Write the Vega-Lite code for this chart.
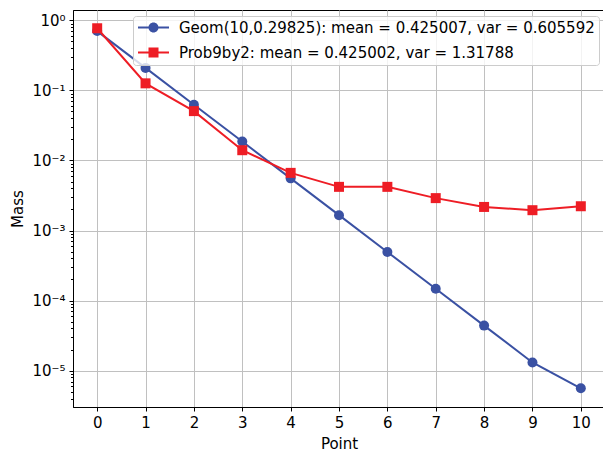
{
  "$schema": "https://vega.github.io/schema/vega-lite/v6.json",
  "autosize": {"type": "none"},
  "width": 532,
  "height": 397,
  "padding": {"left": 73, "top": 10, "right": 0, "bottom": 48},
  "config": {
    "font": "DejaVu Sans",
    "view": {"stroke": "#000000", "strokeWidth": 1},
    "axis": {
      "labelFont": "DejaVu Sans",
      "titleFont": "DejaVu Sans",
      "labelFontSize": 15,
      "titleFontSize": 15,
      "titleFontWeight": "normal",
      "labelColor": "#000000",
      "titleColor": "#000000",
      "domainColor": "#000000",
      "tickColor": "#000000",
      "gridColor": "#c0c0c0",
      "gridWidth": 1,
      "gridOpacity": 1
    },
    "legend": {"labelFont": "DejaVu Sans"}
  },
  "data": {
    "values": [
      {"point": 0, "mass": 0.70175, "series": "Geom(10,0.29825): mean = 0.425007, var = 0.605592"},
      {"point": 1, "mass": 0.20929, "series": "Geom(10,0.29825): mean = 0.425007, var = 0.605592"},
      {"point": 2, "mass": 0.06242, "series": "Geom(10,0.29825): mean = 0.425007, var = 0.605592"},
      {"point": 3, "mass": 0.018617, "series": "Geom(10,0.29825): mean = 0.425007, var = 0.605592"},
      {"point": 4, "mass": 0.005552, "series": "Geom(10,0.29825): mean = 0.425007, var = 0.605592"},
      {"point": 5, "mass": 0.001656, "series": "Geom(10,0.29825): mean = 0.425007, var = 0.605592"},
      {"point": 6, "mass": 0.000494, "series": "Geom(10,0.29825): mean = 0.425007, var = 0.605592"},
      {"point": 7, "mass": 0.0001473, "series": "Geom(10,0.29825): mean = 0.425007, var = 0.605592"},
      {"point": 8, "mass": 0.00004393, "series": "Geom(10,0.29825): mean = 0.425007, var = 0.605592"},
      {"point": 9, "mass": 0.0000131, "series": "Geom(10,0.29825): mean = 0.425007, var = 0.605592"},
      {"point": 10, "mass": 0.0000056, "series": "Geom(10,0.29825): mean = 0.425007, var = 0.605592"},
      {"point": 0, "mass": 0.77, "series": "Prob9by2: mean = 0.425002, var = 1.31788"},
      {"point": 1, "mass": 0.126, "series": "Prob9by2: mean = 0.425002, var = 1.31788"},
      {"point": 2, "mass": 0.0506, "series": "Prob9by2: mean = 0.425002, var = 1.31788"},
      {"point": 3, "mass": 0.0140, "series": "Prob9by2: mean = 0.425002, var = 1.31788"},
      {"point": 4, "mass": 0.00665, "series": "Prob9by2: mean = 0.425002, var = 1.31788"},
      {"point": 5, "mass": 0.0042, "series": "Prob9by2: mean = 0.425002, var = 1.31788"},
      {"point": 6, "mass": 0.0042, "series": "Prob9by2: mean = 0.425002, var = 1.31788"},
      {"point": 7, "mass": 0.0029, "series": "Prob9by2: mean = 0.425002, var = 1.31788"},
      {"point": 8, "mass": 0.00217, "series": "Prob9by2: mean = 0.425002, var = 1.31788"},
      {"point": 9, "mass": 0.00195, "series": "Prob9by2: mean = 0.425002, var = 1.31788"},
      {"point": 10, "mass": 0.00222, "series": "Prob9by2: mean = 0.425002, var = 1.31788"}
    ]
  },
  "encoding": {
    "x": {
      "field": "point", "type": "quantitative",
      "scale": {"domain": [-0.5, 10.5], "nice": false, "zero": false},
      "axis": {"title": "Point", "values": [0,1,2,3,4,5,6,7,8,9,10], "format": "d", "tickSize": 4, "labelPadding": 4, "titlePadding": 6, "grid": true}
    },
    "y": {
      "field": "mass", "type": "quantitative",
      "scale": {"type": "log", "domain": [0.00000303, 1.403], "nice": false},
      "axis": {
        "title": "Mass",
        "orient": "left",
        "values": [1, 0.1, 0.01, 0.001, 0.0001, 0.00001, 0.000004,0.000005,0.000006,0.000007,0.000008,0.000009,0.00002,0.00003,0.00004,0.00005,0.00006,0.00007,0.00008,0.00009,0.0002,0.0003,0.0004,0.0005,0.0006,0.0007,0.0008,0.0009,0.002,0.003,0.004,0.005,0.006,0.007,0.008,0.009,0.02,0.03,0.04,0.05,0.06,0.07,0.08,0.09,0.2,0.3,0.4,0.5,0.6,0.7,0.8,0.9],
        "labelExpr": "abs(log(datum.value)/LN10 - round(log(datum.value)/LN10)) < 0.000001 ? '10' + ['⁰','⁻¹','⁻²','⁻³','⁻⁴','⁻⁵'][round(-log(datum.value)/LN10)] : ''",
        "tickSize": {"condition": {"test": "abs(log(datum.value)/LN10 - round(log(datum.value)/LN10)) < 0.000001", "value": 4}, "value": 2.5},
        "gridOpacity": {"condition": {"test": "abs(log(datum.value)/LN10 - round(log(datum.value)/LN10)) < 0.000001", "value": 1}, "value": 0},
        "labelPadding": 4,
        "labelOverlap": false,
        "titlePadding": 6,
        "grid": true
      }
    },
    "color": {
      "field": "series", "type": "nominal",
      "scale": {"domain": ["Geom(10,0.29825): mean = 0.425007, var = 0.605592", "Prob9by2: mean = 0.425002, var = 1.31788"], "range": ["#3a51a3", "#ee1d25"]},
      "legend": {
        "title": null,
        "orient": "none",
        "legendX": 60,
        "legendY": 6,
        "labelFontSize": 15,
        "labelColor": "#000000",
        "labelLimit": 0,
        "symbolSize": 100,
        "symbolOffset": 9,
        "labelOffset": 18,
        "padding": 4,
        "rowPadding": 9,
        "fillColor": "rgba(255,255,255,0.8)",
        "strokeColor": "#cccccc",
        "cornerRadius": 3,
        "encode": {
          "symbols": {
            "update": {
              "shape": {"signal": "indexof(datum.value, 'Geom') === 0 ? 'M-3.1,-0.2H3.1V0.2H-3.1Z M1,0A1,1 0 1,1 -1,0A1,1 0 1,1 1,0Z' : 'M-3.1,-0.2H3.1V0.2H-3.1Z M-1,-1H1V1H-1Z'"},
              "fill": {"signal": "indexof(datum.value, 'Geom') === 0 ? '#3a51a3' : '#ee1d25'"},
              "stroke": {"value": "transparent"},
              "strokeWidth": {"value": 0},
              "opacity": {"value": 1},
              "fillOpacity": {"value": 1}
            }
          }
        }
      }
    }
  },
  "layer": [
    {
      "transform": [{"filter": "indexof(datum.series, 'Geom') === 0"}],
      "mark": {"type": "line", "strokeWidth": 2}
    },
    {
      "transform": [{"filter": "indexof(datum.series, 'Geom') === 0"}],
      "mark": {"type": "point", "shape": "circle", "filled": true, "size": 100, "opacity": 1}
    },
    {
      "transform": [{"filter": "indexof(datum.series, 'Prob') === 0"}],
      "mark": {"type": "line", "strokeWidth": 2}
    },
    {
      "transform": [{"filter": "indexof(datum.series, 'Prob') === 0"}],
      "mark": {"type": "point", "shape": "square", "filled": true, "size": 100, "opacity": 1}
    }
  ]
}
